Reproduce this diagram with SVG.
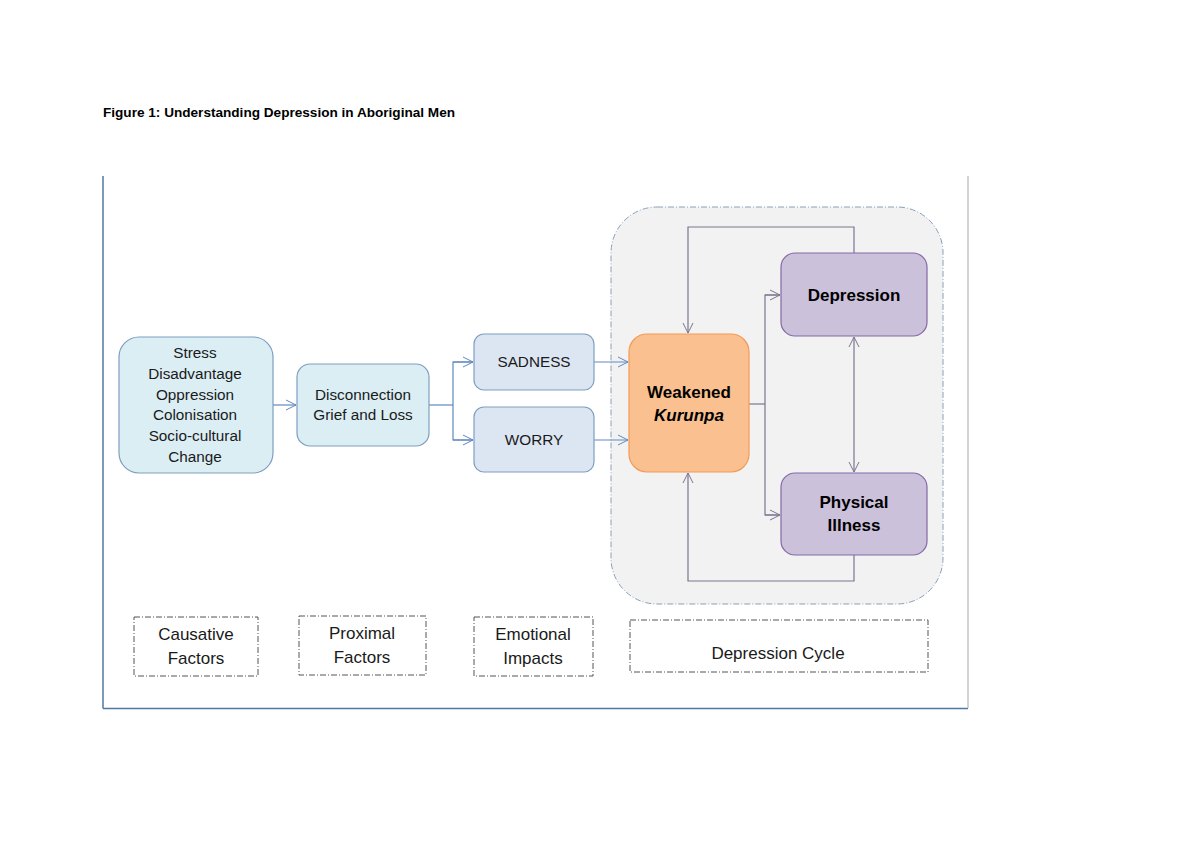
<svg xmlns="http://www.w3.org/2000/svg" width="1200" height="848" viewBox="0 0 1200 848">
<style>
text{font-family:"Liberation Sans",Arial,sans-serif;fill:#1a1a1a;text-anchor:middle}
.t{font-size:15.3px}
.l{font-size:17px}
.b{font-size:17px;font-weight:bold;fill:#000}
.blue{fill:#dbeef4;stroke:#7e9ec0;stroke-width:1.2}
.blue2{fill:#dce6f2;stroke:#7e9ec0;stroke-width:1.2}
.purple{fill:#ccc1da;stroke:#8468a6;stroke-width:1.2}
.lbl{fill:#fff;stroke:#555;stroke-width:1;stroke-dasharray:6 2 1 2}
.cb{fill:none;stroke:#5f89c0;stroke-width:1.2}
.cp{fill:none;stroke:#7d7590;stroke-width:1.2}
</style>
<defs>
<marker id="ab" markerWidth="12" markerHeight="12" refX="10" refY="5" orient="auto" markerUnits="userSpaceOnUse" viewBox="0 0 12 10">
<path d="M0,0 L10,5 L0,10" fill="none" stroke="#5f89c0" stroke-width="1"/>
</marker>
<marker id="ap" markerWidth="12" markerHeight="12" refX="10" refY="5" orient="auto-start-reverse" markerUnits="userSpaceOnUse" viewBox="0 0 12 10">
<path d="M0,0 L10,5 L0,10" fill="none" stroke="#7d7590" stroke-width="1"/>
</marker>
</defs>
<rect width="1200" height="848" fill="#fff"/>
<text x="103" y="117" style="font-size:12.5px;font-weight:bold;text-anchor:start;fill:#000" textLength="352" lengthAdjust="spacingAndGlyphs">Figure 1: Understanding Depression in Aboriginal Men</text>
<g id="frame">
<line x1="103" y1="176" x2="103" y2="708.5" stroke="#4f76a8" stroke-width="1.5"/>
<line x1="103" y1="708.5" x2="968" y2="708.5" stroke="#4f76a8" stroke-width="1.5"/>
<line x1="968" y1="176" x2="968" y2="708" stroke="#c4c4c4" stroke-width="1.5"/>
</g>
<g id="cycle-container">
<rect x="611" y="207" width="332" height="397" rx="46" fill="#f2f2f2" stroke="#8aa0bb" stroke-width="1" stroke-dasharray="6 2 1 2"/>
</g>
<g id="connectors">
<line class="cb" x1="273" y1="405" x2="296" y2="405" marker-end="url(#ab)"/>
<polyline class="cb" points="429,405 453,405"/>
<polyline class="cb" points="473,362 453,362 453,440 473,440"/>
<line class="cb" x1="453" y1="362" x2="473" y2="362" marker-end="url(#ab)"/>
<line class="cb" x1="453" y1="440" x2="473" y2="440" marker-end="url(#ab)"/>
<line class="cb" x1="594" y1="362" x2="628" y2="362" marker-end="url(#ab)"/>
<line class="cb" x1="594" y1="440" x2="628" y2="440" marker-end="url(#ab)"/>
<line class="cp" x1="749" y1="404" x2="765" y2="404"/>
<polyline class="cp" points="780,295 765,295 765,515 780,515"/>
<line class="cp" x1="765" y1="295" x2="780" y2="295" marker-end="url(#ap)"/>
<line class="cp" x1="765" y1="515" x2="780" y2="515" marker-end="url(#ap)"/>
<polyline class="cp" points="854,253 854,227 688,227 688,333" marker-end="url(#ap)"/>
<polyline class="cp" points="854,555 854,581 688,581 688,473" marker-end="url(#ap)"/>
<line class="cp" x1="854" y1="337" x2="854" y2="472" marker-start="url(#ap)" marker-end="url(#ap)"/>
</g>
<g id="causative">
<rect class="blue" x="119" y="337" width="154" height="136" rx="20"/>
<text class="t" x="195" y="358">Stress</text>
<text class="t" x="195" y="379">Disadvantage</text>
<text class="t" x="195" y="400">Oppression</text>
<text class="t" x="195" y="420">Colonisation</text>
<text class="t" x="195" y="441">Socio-cultural</text>
<text class="t" x="195" y="462">Change</text>
</g>
<g id="proximal">
<rect class="blue" x="297" y="364" width="132" height="82" rx="13"/>
<text class="t" x="363" y="400">Disconnection</text>
<text class="t" x="363" y="420">Grief and Loss</text>
</g>
<g id="sadness">
<rect class="blue2" x="474" y="334" width="120" height="56" rx="10"/>
<text class="t" x="534" y="367">SADNESS</text>
</g>
<g id="worry">
<rect class="blue2" x="474" y="407" width="120" height="65" rx="10"/>
<text class="t" x="534" y="445">WORRY</text>
</g>
<g id="kurunpa">
<rect x="629" y="334" width="120" height="138" rx="18" fill="#fac08f" stroke="#f29a58" stroke-width="1.2"/>
<text class="b" x="689" y="398">Weakened</text>
<text class="b" x="689" y="421" font-style="italic">Kurunpa</text>
</g>
<g id="depression">
<rect class="purple" x="781" y="253" width="146" height="83" rx="14"/>
<text class="b" x="854" y="301">Depression</text>
</g>
<g id="physical">
<rect class="purple" x="781" y="473" width="146" height="82" rx="14"/>
<text class="b" x="854" y="508">Physical</text>
<text class="b" x="854" y="531">Illness</text>
</g>
<g id="label-causative">
<rect class="lbl" x="134" y="617" width="124" height="59"/>
<text class="l" x="196" y="640">Causative</text>
<text class="l" x="196" y="664">Factors</text>
</g>
<g id="label-proximal">
<rect class="lbl" x="299" y="616" width="127" height="59"/>
<text class="l" x="362" y="639">Proximal</text>
<text class="l" x="362" y="663">Factors</text>
</g>
<g id="label-emotional">
<rect class="lbl" x="474" y="617" width="119" height="59"/>
<text class="l" x="533" y="640">Emotional</text>
<text class="l" x="533" y="664">Impacts</text>
</g>
<g id="label-cycle">
<rect class="lbl" x="630" y="620" width="298" height="52"/>
<text class="l" x="778" y="659">Depression Cycle</text>
</g>
</svg>
